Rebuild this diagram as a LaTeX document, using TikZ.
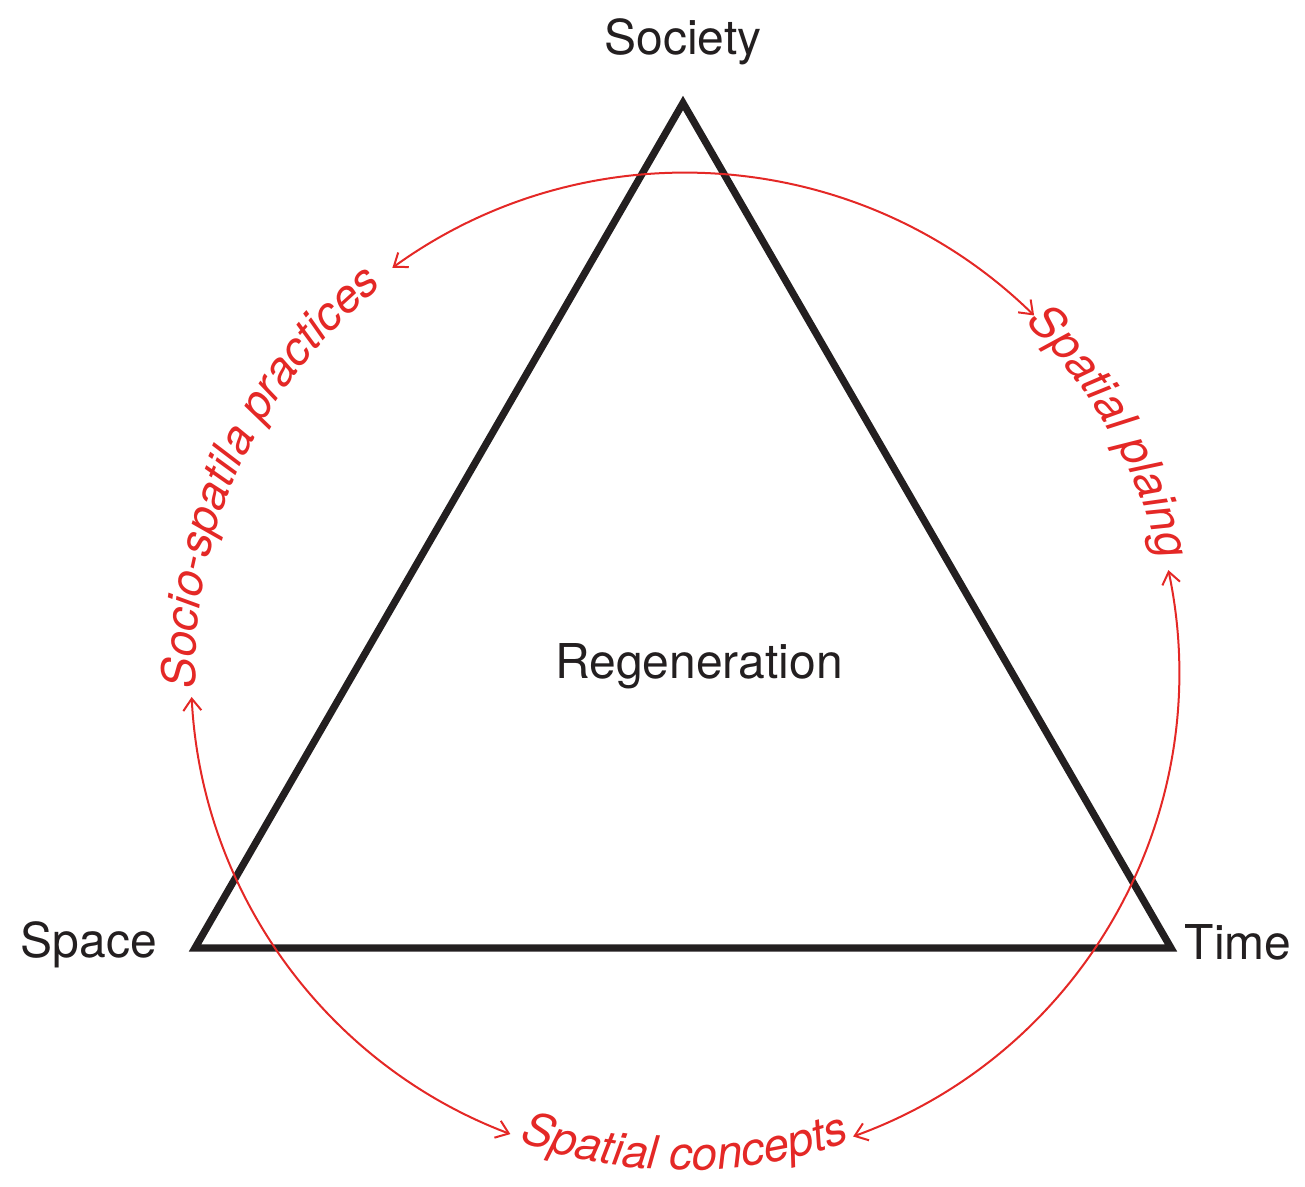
\documentclass[tikz,border=0pt]{standalone}
\usepackage{fontspec}
\setmainfont{TeX Gyre Heros}
\usetikzlibrary{arrows.meta,decorations.text}
\definecolor{tri}{RGB}{35,31,32}
\definecolor{loop}{RGB}{228,40,38}
\newcommand{\reditalic}{\fontsize{23}{27}\selectfont\itshape}
\tikzset{
  corner/.style={font=\fontsize{24}{28}\selectfont, text=tri, anchor=base, inner sep=0pt},
  cyclearc/.style={draw=loop, line width=1pt, {Straight Barb[length=6pt,width=9pt]}-{Straight Barb[length=6pt,width=9pt]}},
  arclabel/.style={decorate, decoration={text along path, text align=center, text color=loop, text={|\reditalic|#1}}}
}

\begin{document}
\begin{tikzpicture}[x=0.5pt, y=0.5pt]
  \useasboundingbox (-685,-515) rectangle (620,672);
  % triangle of the three poles
  \coordinate (top) at (-2,569);
  \coordinate (left) at (-490,-276);
  \coordinate (right) at (486,-276);
  \draw[tri, line width=3.6pt, line join=miter] (top) -- (left) -- (right) -- cycle;
  \node[corner] (society) at (-2,617) {Society};
  \node[corner] (space) at (-596,-285) {Space};
  \node[corner] (time) at (553,-287) {Time};
  \node[corner] (regen) at (14,-7) {Regeneration};
  % arc ends on the circle round the centre
  \coordinate (topL) at (125.9:499);
  \coordinate (topR) at (45.6:499);
  \coordinate (leftU) at (182.9:494);
  \coordinate (leftD) at (249.3:494);
  \coordinate (rightU) at (11.9:494);
  \coordinate (rightD) at (-70.1:494);
  \draw[cyclearc] (topL) arc[start angle=125.9, end angle=45.6, radius=499];
  \draw[cyclearc] (leftU) arc[start angle=182.9, end angle=249.3, radius=494];
  \draw[cyclearc] (rightU) arc[start angle=11.9, end angle=-70.1, radius=494];
  % curved labels
  \path[arclabel={Socio-spatila practices}] (186:490) arc[start angle=186, end angle=124, radius=490];
  \path[arclabel={Spatial plaing}] (50:488) arc[start angle=50, end angle=9, radius=488];
  \path[arclabel={Spatial concepts}] (245:498) arc[start angle=245, end angle=295, radius=498];
\end{tikzpicture}
\end{document}
